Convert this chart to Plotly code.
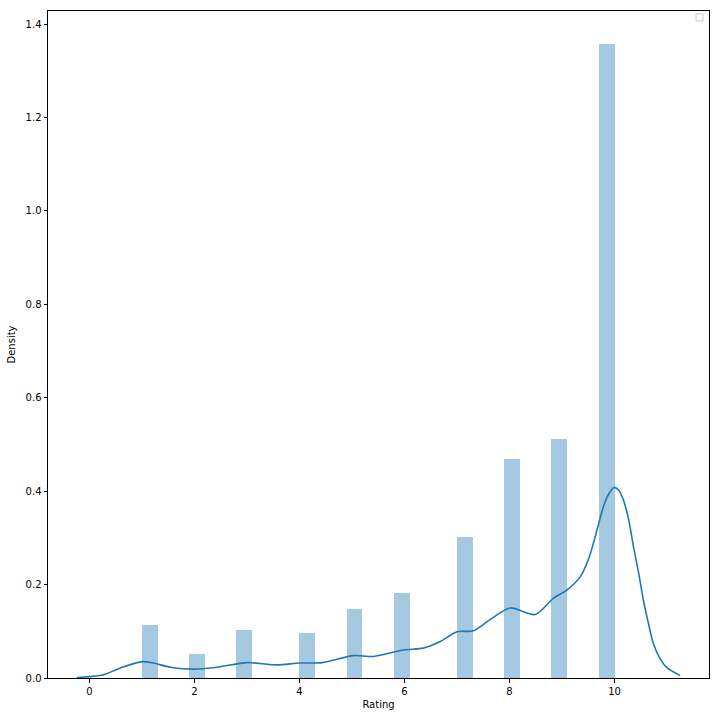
import plotly.graph_objects as go

# Histogram bins (left edges, width 0.3) and densities
bin_left = [1.0, 1.9, 2.8, 4.0, 4.9, 5.8, 7.0, 7.9, 8.8, 9.7]
bin_width = 0.3
density = [0.114, 0.052, 0.103, 0.097, 0.148, 0.182, 0.302, 0.469, 0.512, 1.358]

# KDE curve
kde_x = [-0.24, 0.0, 0.27, 0.58, 1.0, 1.22, 1.54, 2.0, 2.36, 3.0, 3.25, 3.57, 4.01, 4.43,
         5.03, 5.41, 5.98, 6.36, 6.68, 7.0, 7.31, 7.63, 8.01, 8.49, 8.84, 9.09, 9.35,
         9.5, 9.6, 9.79, 9.89, 9.99, 10.08, 10.17, 10.27, 10.36, 10.46, 10.55, 10.65,
         10.74, 10.87, 11.0, 11.25]
kde_y = [0.001, 0.003, 0.007, 0.021, 0.035, 0.032, 0.023, 0.019, 0.022, 0.033, 0.031, 0.028,
         0.032, 0.033, 0.048, 0.046, 0.060, 0.064, 0.078, 0.099, 0.101, 0.125, 0.150, 0.136,
         0.171, 0.188, 0.217, 0.253, 0.289, 0.367, 0.394, 0.408, 0.402, 0.381, 0.339, 0.282,
         0.225, 0.167, 0.115, 0.074, 0.041, 0.022, 0.005]

x_ticks = [0, 2, 4, 6, 8, 10]
y_ticks = [0.0, 0.2, 0.4, 0.6, 0.8, 1.0, 1.2, 1.4]

fig = go.Figure()
fig.add_trace(go.Bar(x=bin_left, y=density, width=bin_width, offset=0,
                     marker=dict(color="rgba(31,119,180,0.4)", line=dict(width=0)),
                     showlegend=False))
fig.add_trace(go.Scatter(x=kde_x, y=kde_y, mode="lines",
                         line=dict(color="#1f77b4", width=1.6, shape="spline", smoothing=0.8),
                         showlegend=False))

axis_common = dict(showline=True, linecolor="black", linewidth=1, mirror=True,
                   ticks="outside", ticklen=3.5, tickwidth=0.8, tickcolor="black",
                   showgrid=False, zeroline=False,
                   tickfont=dict(family="DejaVu Sans", size=10, color="black"))

fig.update_layout(
    width=720, height=720,
    margin=dict(l=48, r=11, t=11, b=42),
    plot_bgcolor="white", paper_bgcolor="white",
    bargap=0,
    xaxis=dict(range=[-0.79, 11.8], tickvals=x_ticks,
               title=dict(text="Rating", font=dict(family="DejaVu Sans", size=10, color="black"), standoff=5),
               **axis_common),
    yaxis=dict(range=[0, 1.428], tickvals=y_ticks, tickformat=".1f",
               title=dict(text="Density", font=dict(family="DejaVu Sans", size=10, color="black"), standoff=8),
               **axis_common),
    shapes=[dict(type="rect", xref="paper", yref="paper",
                 x0=0.9803, x1=0.9909, y0=0.9851, y1=0.9957,
                 line=dict(color="#cccccc", width=1), fillcolor="white")],
)

fig.write_html("out.html")
